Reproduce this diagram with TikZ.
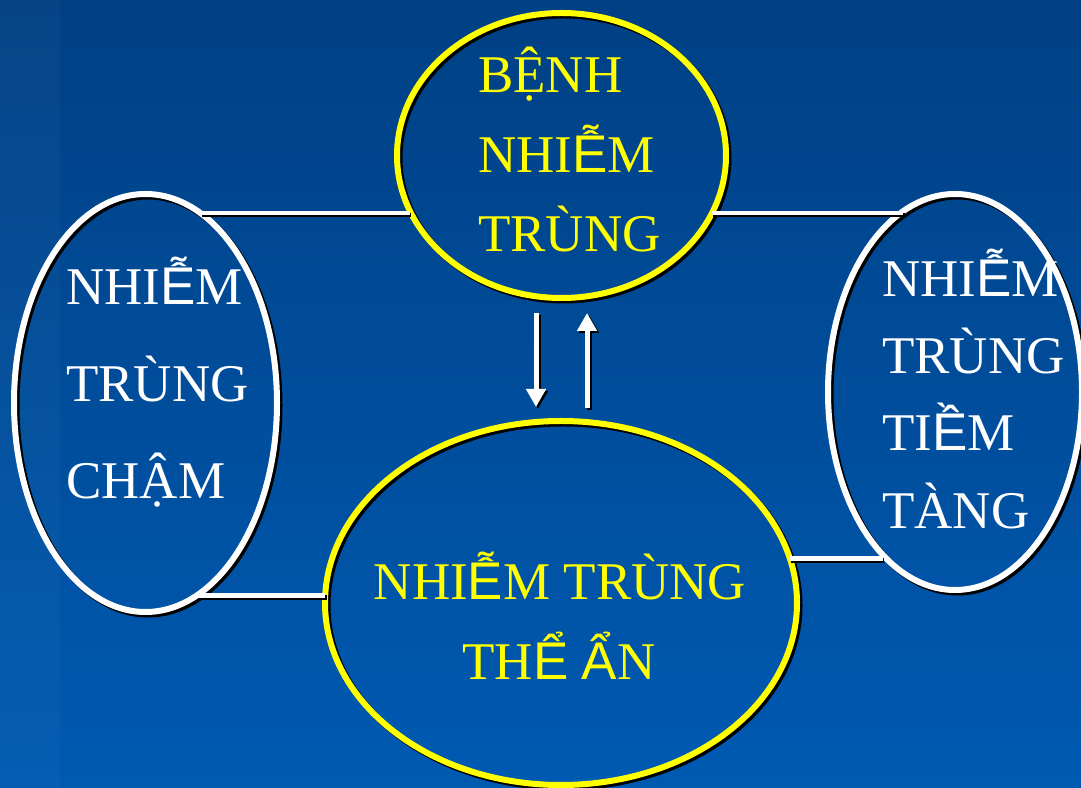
\documentclass[tikz,border=0pt]{standalone}
\usepackage{fontspec}
\setmainfont{Liberation Serif}
\newfontfamily\altglyph{Liberation Sans}
\usetikzlibrary{shapes.geometric,arrows.meta}
% stacked-diacritic capitals are set in the sans face
\newcommand\ag[1]{{\altglyph #1}}
\definecolor{bgtop}{RGB}{0,64,132}
\definecolor{bgbot}{RGB}{0,90,178}
\definecolor{ringyellow}{RGB}{255,255,0}

\begin{document}
\begin{tikzpicture}[x=1pt,y=1pt,
  ring/.style={ellipse, draw=#1, line width=6pt, inner sep=0pt, outer sep=0pt,
    preaction={draw=black, line width=6pt, transform canvas={shift={(2.5pt,-2.5pt)}}}},
  link/.style={draw=white, line width=4.5pt,
    preaction={draw=black, line width=4.5pt, transform canvas={shift={(1.5pt,-2pt)}}}},
  flow/.style={draw=white, line width=5pt, -{Triangle[width=19pt,length=18pt]},
    preaction={draw=black, line width=5pt, transform canvas={shift={(2pt,-2pt)}}}},
  word/.style={inner sep=0pt, font=\fontsize{53}{60}\selectfont, text=#1},
]
% page and background
\useasboundingbox (0,0) rectangle (1081,787);
\shade[top color=bgtop, bottom color=bgbot] (0,0) rectangle (1081,787);
\fill[white, opacity=0.025] (0,0) rectangle (60,787);

% ellipses
\node[ring=ringyellow, minimum width=329pt, minimum height=285pt] (T) at (561.5,631.5) {};
\node[ring=white, minimum width=263pt, minimum height=418pt] (L) at (145.5,384) {};
\node[ring=white, minimum width=254pt, minimum height=396pt] (R) at (955,395) {};
\node[ring=ringyellow, minimum width=472pt, minimum height=364pt] (B) at (561,184) {};

% horizontal links between the ellipses
\draw[link] (L.74.4) -- (L.74.4 -| T.200.5);
\draw[link] (T.339.5) -- (T.339.5 -| R.106.4);
\draw[link] (L.285.15) -- (L.285.15 -| B.178.06);
\draw[link] (B.11.39) -- (B.11.39 -| R.246.96);

% two-way arrows between the top and bottom ellipses
\draw[flow, shorten <=15pt, shorten >=14pt] ([xshift=-25.5pt]T.south) -- ([xshift=-25pt]B.north);
\draw[flow, shorten <=13pt, shorten >=15pt] ([xshift=26pt]B.north) -- ([xshift=25.5pt]T.south);

% labels: top ellipse
\node[word=ringyellow, anchor=base west] (t1) at (478,694) {BỆNH};
\node[word=ringyellow, anchor=base west] (t2) at (478,614) {NHI\ag{Ễ}M};
\node[word=ringyellow, anchor=base west] (t3) at (478,535) {TRÙNG};

% labels: left ellipse
\node[word=white, anchor=base west] (l1) at (66,482) {NHI\ag{Ễ}M};
\node[word=white, anchor=base west] (l2) at (66,385.3) {TRÙNG};
\node[word=white, anchor=base west] (l3) at (66,288.7) {CHẬM};

% labels: right ellipse
\node[word=white, anchor=base west] (r1) at (882,490.3) {NHI\ag{Ễ}M};
\node[word=white, anchor=base west] (r2) at (882,413) {TRÙNG};
\node[word=white, anchor=base west] (r3) at (882,336.3) {TI\ag{Ề}M};
\node[word=white, anchor=base west] (r4) at (882,258.7) {TÀNG};

% labels: bottom ellipse
\node[word=ringyellow, anchor=base] (b1) at (560,187) {NHI\ag{Ễ}M TRÙNG};
\node[word=ringyellow, anchor=base] (b2) at (559,107) {TH\ag{Ể} \ag{Ẩ}N};
\end{tikzpicture}
\end{document}
